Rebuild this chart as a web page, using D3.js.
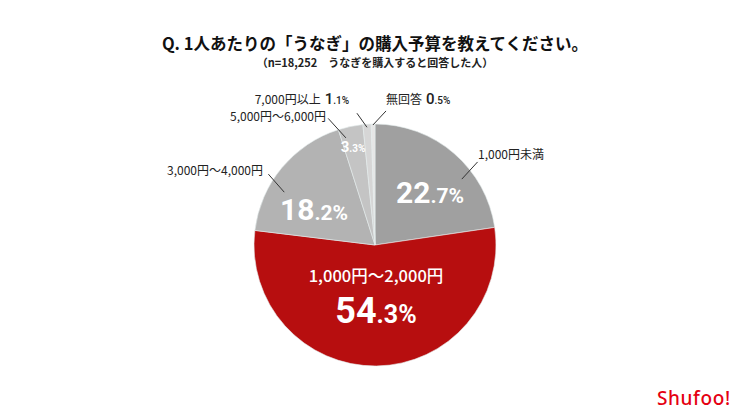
<!DOCTYPE html>
<html lang="ja">
<head>
<meta charset="UTF-8">
<title>うなぎ 購入予算</title>
<style>
  body { margin: 0; background: #fff; }
  svg text { font-family: "Noto Sans CJK JP", "Noto Sans", sans-serif; }
  .num { font-family: Roboto, "Noto Sans", sans-serif; font-weight: 700; }
</style>
</head>
<body>
<div id="chart"></div>
<script src="https://cdn.jsdelivr.net/npm/d3@7"></script>
<script>
// data
var categories = ["1,000円未満", "1,000円～2,000円", "3,000円～4,000円", "5,000円～6,000円", "7,000円以上", "無回答"];
var values = [22.7, 54.3, 18.2, 3.3, 1.1, 0.5];
var colors = ["#a0a0a0", "#b70e0f", "#b3b3b3", "#c4c4c4", "#d6d6d6", "#e6e6e6"];

var width = 750, height = 418;
var cx = 375, cy = 245, radius = 121;

var svg = d3.select("#chart").append("svg")
    .attr("width", width).attr("height", height);

// title
svg.append("text")
    .attr("x", cx).attr("y", 50)
    .attr("text-anchor", "middle")
    .style("font-size", "16.5px").style("font-weight", 700).style("fill", "#111")
    .text("Q. 1人あたりの「うなぎ」の購入予算を教えてください。");
svg.append("text")
    .attr("x", cx).attr("y", 67)
    .attr("text-anchor", "middle")
    .style("font-size", "11px").style("font-weight", 700).style("fill", "#222")
    .text("（n=18,252　うなぎを購入すると回答した人）");

var data = categories.map(function (c, i) { return {name: c, value: values[i], color: colors[i]}; });

var pie = d3.pie().sort(null).value(function (d) { return d.value; });
var arcs = pie(data);
var arc = d3.arc().innerRadius(0).outerRadius(radius);

var g = svg.append("g").attr("transform", "translate(" + cx + "," + cy + ")");

g.selectAll("path.slice")
    .data(arcs)
    .enter().append("path")
    .attr("class", "slice")
    .attr("d", arc)
    .style("fill", function (d) { return d.data.color; })
    .style("stroke", "#e4ecec")
    .style("stroke-width", 0.6);

// label placement (polar: angle in degrees from 12 o'clock, radius)
function polar(a, r) {
    var t = a * Math.PI / 180;
    return [Math.sin(t) * r, -Math.cos(t) * r];
}

var leaders = [
    {name: "1,000円未満", from: [52.8, 109], to: [51, 132]},
    {name: "3,000円～4,000円", from: [-59.8, 105], to: [-56.4, 128]},
    {name: "5,000円～6,000円", from: [-15.2, 111], to: [-20.3, 135]},
    {name: "7,000円以上", from: [-3.9, 118], to: [-7.8, 133]},
    {name: "無回答", from: [-1, 120], to: [4.7, 134.5]}
];

g.selectAll("line.leader")
    .data(leaders)
    .enter().append("line")
    .attr("class", "leader")
    .attr("x1", function (d) { return polar(d.from[0], d.from[1])[0]; })
    .attr("y1", function (d) { return polar(d.from[0], d.from[1])[1]; })
    .attr("x2", function (d) { return polar(d.to[0], d.to[1])[0]; })
    .attr("y2", function (d) { return polar(d.to[0], d.to[1])[1]; })
    .style("stroke", "#333").style("stroke-width", 1);

// outside labels
function outLabel(x, y, anchor, name, pct, big, small) {
    var t = g.append("text")
        .attr("x", x).attr("y", y)
        .attr("text-anchor", anchor)
        .style("fill", "#222");
    t.append("tspan").style("font-size", "12px").text(name);
    if (pct !== null) {
        var s = String(pct).split(".");
        t.append("tspan").attr("class", "num").attr("dx", 4)
            .style("font-size", big + "px").style("font-weight", 500).text(s[0]);
        t.append("tspan").attr("class", "num")
            .style("font-size", small + "px").style("font-weight", 500).text("." + s[1] + "%");
    }
}
outLabel(103, -86, "start", categories[0], null);
outLabel(-112, -70, "end", categories[2], null);
outLabel(-49, -124, "end", categories[3], null);
outLabel(-26, -141, "end", categories[4], values[4], 15, 10);
outLabel(11, -141, "start", categories[5], values[5], 15, 10);

// inside labels
function pctLabel(x, y, v, big, small) {
    var s = String(v).split(".");
    var t = g.append("text")
        .attr("class", "num")
        .attr("x", x).attr("y", y)
        .attr("text-anchor", "middle")
        .style("fill", "#fff");
    t.append("tspan").style("font-size", big + "px").text(s[0]);
    t.append("tspan").style("font-size", small + "px").text("." + s[1] + "%");
}
pctLabel(55, -42, values[0], 30, 21);
pctLabel(-61, -25, values[2], 30, 21);
pctLabel(1, 78, values[1], 36, 25);
pctLabel(-22, -93, values[3], 15, 10);

g.append("text")
    .attr("x", 1).attr("y", 37)
    .attr("text-anchor", "middle")
    .style("font-size", "16.5px").style("font-weight", 500).style("fill", "#fff")
    .text(categories[1]);

// logo
svg.append("text")
    .attr("x", 657).attr("y", 405)
    .style("font-family", "'Noto Sans', sans-serif")
    .style("font-size", "19px").style("font-weight", 500)
    .style("letter-spacing", "0.6px")
    .style("fill", "#e50012")
    .text("Shufoo!");
</script>
</body>
</html>
